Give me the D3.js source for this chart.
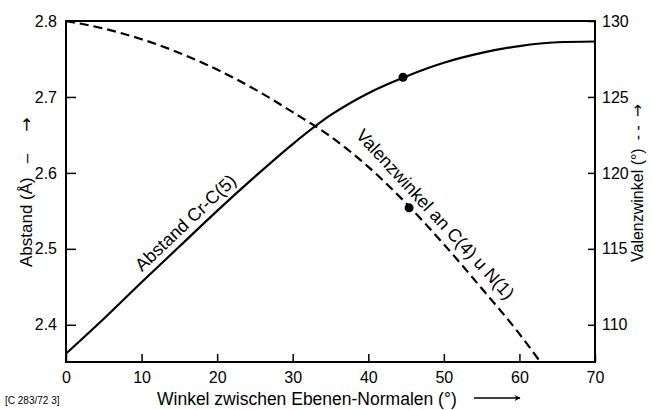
<!DOCTYPE html>
<html>
<head>
<meta charset="utf-8">
<script src="https://cdn.jsdelivr.net/npm/d3@7"></script>
<style>
  body { margin: 0; background: #fff; }
  svg text { font-family: "Liberation Sans", Arial, sans-serif; fill: #000; }
  svg tspan.arr { font-family: "DejaVu Sans", sans-serif; }
</style>
</head>
<body>
<div id="chart"></div>
<script>
// Winkel zwischen Ebenen-Normalen (deg)
const angles = [0, 5, 10, 15, 20, 25, 30, 35, 40, 45, 50, 55, 60, 65, 70];
// Abstand Cr-C(5) in Angstrom (left axis, solid)
const abstand = [2.362, 2.408, 2.456, 2.503, 2.550, 2.595, 2.638, 2.676, 2.705, 2.727, 2.745, 2.758, 2.767, 2.772, 2.773];
// Valenzwinkel an C(4) u N(1) in deg (right axis, dashed)
const valAngles = [0, 5, 10, 15, 20, 25, 30, 35, 40, 45, 50, 55, 60, 62.7];
const valenz = [130.0, 129.5, 128.8, 127.9, 126.8, 125.5, 124.0, 122.4, 120.4, 118.0, 115.3, 112.4, 109.4, 107.6];
// marked points
const abstandDot = [44.6, 2.726];
const valenzDot = [45.4, 117.7];

const xTicks = [0, 10, 20, 30, 40, 50, 60, 70];
const leftTicks = [2.4, 2.5, 2.6, 2.7, 2.8];
const rightTicks = [110, 115, 120, 125, 130];

const W = 653, H = 410;
const svg = d3.select("#chart").append("svg")
    .attr("width", W)
    .attr("height", H);

const x = d3.scaleLinear().domain([0, 70]).range([66, 595]);
const yL = d3.scaleLinear().domain([2.351, 2.8]).range([362, 21]);
const yR = d3.scaleLinear().domain([107.55, 130]).range([362, 21]);

svg.append("clipPath").attr("id", "plot")
  .append("rect").attr("x", 66).attr("y", 21).attr("width", 529).attr("height", 341);

// axes (ticks inward)
const gx = svg.append("g").attr("transform", "translate(0,362)")
    .call(d3.axisBottom(x).tickValues(xTicks).tickSize(-8).tickPadding(10).tickFormat(d3.format("d")));
const gl = svg.append("g").attr("transform", "translate(66,0)")
    .call(d3.axisLeft(yL).tickValues(leftTicks).tickSize(-10).tickPadding(9).tickFormat(d3.format(".1f")));
const gr = svg.append("g").attr("transform", "translate(595,0)")
    .call(d3.axisRight(yR).tickValues(rightTicks).tickSize(-7).tickPadding(7).tickFormat(d3.format("d")));

[gx, gl, gr].forEach(g => {
  g.select(".domain").remove();
  g.selectAll(".tick line").attr("stroke", "#000").attr("stroke-width", 1.5);
  g.selectAll(".tick text").style("font-size", "16px").attr("fill", "#000");
});

// frame
svg.append("rect")
    .attr("x", 66).attr("y", 21).attr("width", 529).attr("height", 341)
    .attr("fill", "none").attr("stroke", "#000").attr("stroke-width", 2);

const plot = svg.append("g").attr("clip-path", "url(#plot)");

const solidLine = d3.line().x((d, i) => x(angles[i])).y(d => yL(d)).curve(d3.curveMonotoneX);
const dashLine = d3.line().x((d, i) => x(valAngles[i])).y(d => yR(d)).curve(d3.curveMonotoneX);

plot.append("path").datum(abstand)
    .attr("d", solidLine)
    .attr("fill", "none").attr("stroke", "#000").attr("stroke-width", 2.2);

plot.append("path").datum(valenz)
    .attr("d", dashLine)
    .attr("fill", "none").attr("stroke", "#000").attr("stroke-width", 2.2)
    .attr("stroke-dasharray", "9,5");

svg.append("circle").attr("cx", x(abstandDot[0])).attr("cy", yL(abstandDot[1])).attr("r", 4.5);
svg.append("circle").attr("cx", x(valenzDot[0])).attr("cy", yR(valenzDot[1])).attr("r", 4.5);

// labels along the curves
function curveLabel(xs, ys, yScale, at, text, offset) {
  const i = d3.bisectLeft(xs, at);
  const x0 = x(xs[i - 1]), x1 = x(xs[i]);
  const y0 = yScale(ys[i - 1]), y1 = yScale(ys[i]);
  const t = (x(at) - x0) / (x1 - x0);
  const px = x0 + t * (x1 - x0), py = y0 + t * (y1 - y0);
  const ang = Math.atan2(y1 - y0, x1 - x0) * 180 / Math.PI;
  svg.append("text")
      .attr("transform", `translate(${px},${py}) rotate(${ang})`)
      .attr("text-anchor", "middle")
      .attr("dy", offset)
      .style("font-size", "18px")
      .text(text);
}
curveLabel(angles, abstand, yL, 17, "Abstand Cr-C(5)", -7);
curveLabel(valAngles, valenz, yR, 47.5, "Valenzwinkel an C(4) u N(1)", -8);

// axis titles
const tl = svg.append("text")
    .attr("transform", "translate(32,267) rotate(-90)")
    .style("font-size", "17px")
    .text("Abstand (Å)");
tl.append("tspan").attr("dx", 14).text("–");
tl.append("tspan").attr("class", "arr").attr("dx", 22).text("→");

const tr = svg.append("text")
    .attr("transform", "translate(643,262) rotate(-90)")
    .style("font-size", "16px")
    .text("Valenzwinkel (°)");
tr.append("tspan").attr("dx", 8).text("- -");
tr.append("tspan").attr("class", "arr").attr("dx", 8).text("→");

svg.append("text")
    .attr("x", 157).attr("y", 405)
    .style("font-size", "17.5px")
    .text("Winkel zwischen Ebenen-Normalen (°)");

// long arrow after the x title
svg.append("defs").append("marker")
    .attr("id", "ah").attr("viewBox", "0 0 10 10").attr("refX", 9).attr("refY", 5)
    .attr("markerWidth", 10).attr("markerHeight", 6).attr("orient", "auto")
    .attr("markerUnits", "userSpaceOnUse")
  .append("path").attr("d", "M0,0 L10,5 L0,10 L3,5 Z").attr("fill", "#000");
svg.append("line")
    .attr("x1", 474).attr("x2", 520).attr("y1", 398).attr("y2", 398)
    .attr("stroke", "#000").attr("stroke-width", 1.5)
    .attr("marker-end", "url(#ah)");

svg.append("text")
    .attr("x", 5).attr("y", 404)
    .style("font-size", "10px")
    .text("[C 283/72 3]");
</script>
</body>
</html>
